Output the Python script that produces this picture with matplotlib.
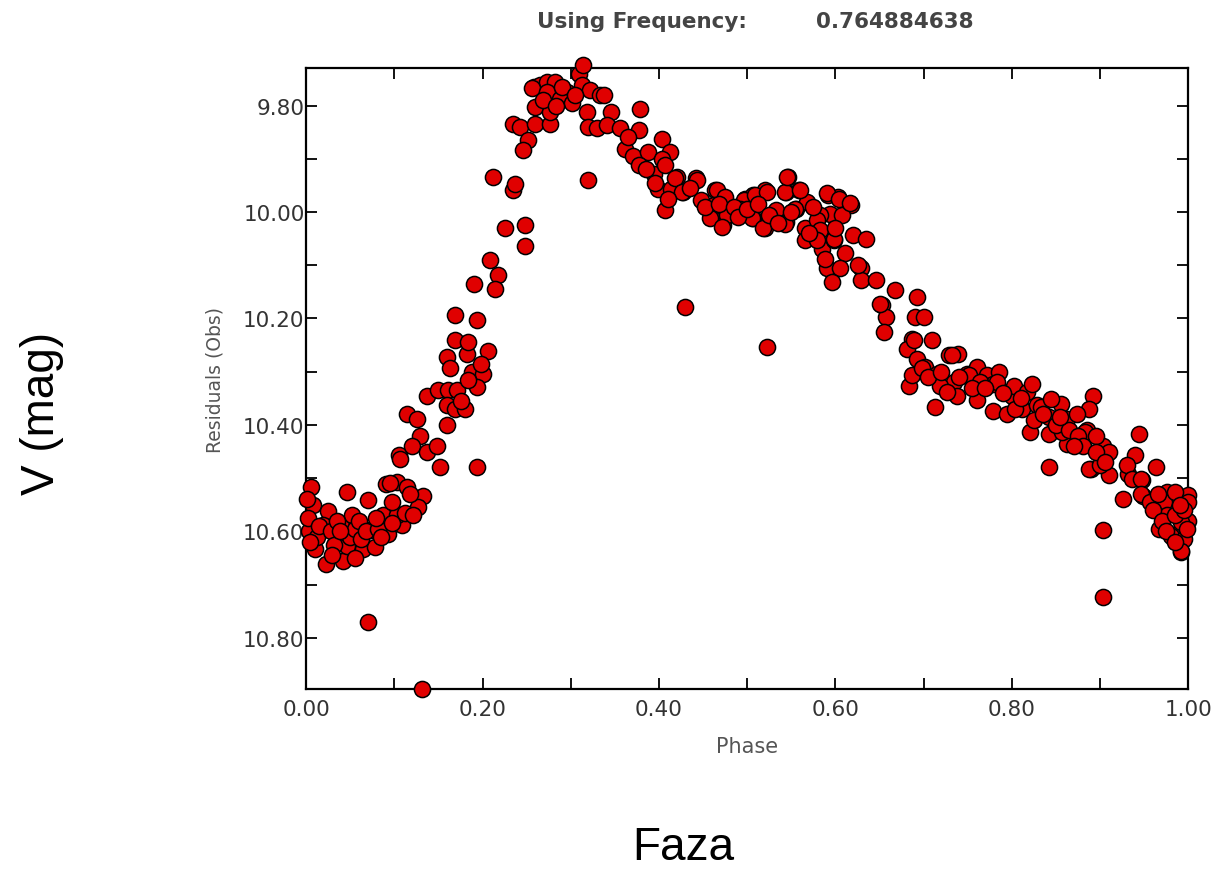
import numpy as np
import matplotlib
matplotlib.use("Agg")
import matplotlib.pyplot as plt
from matplotlib.ticker import MultipleLocator, FormatStrFormatter

# phase / V magnitude
minimum = [(0.006, 10.517), (0.046, 10.526), (0.008, 10.551), (0.025, 10.561), (0.019, 10.589),
           (0.040, 10.589), (0.052, 10.570), (0.070, 10.542), (0.073, 10.598), (0.087, 10.570),
           (0.093, 10.605), (0.109, 10.589), (0.103, 10.570), (0.010, 10.633), (0.023, 10.661),
           (0.042, 10.655), (0.046, 10.627), (0.065, 10.633), (0.078, 10.629), (0.091, 10.511),
           (0.103, 10.507), (0.114, 10.516), (0.133, 10.533), (0.127, 10.554), (0.003, 10.600),
           (0.002, 10.575), (0.012, 10.610), (0.015, 10.590), (0.028, 10.600), (0.032, 10.625),
           (0.035, 10.580), (0.050, 10.610), (0.056, 10.595), (0.060, 10.580), (0.062, 10.615),
           (0.068, 10.600), (0.082, 10.595), (0.085, 10.610), (0.097, 10.585), (0.098, 10.545),
           (0.112, 10.565), (0.118, 10.530), (0.121, 10.570), (0.095, 10.510), (0.001, 10.540),
           (0.004, 10.620), (0.030, 10.645), (0.055, 10.650), (0.038, 10.600), (0.079, 10.575)]

rise = [(0.105, 10.456), (0.107, 10.464), (0.152, 10.479), (0.114, 10.379), (0.126, 10.388),
        (0.129, 10.420), (0.120, 10.439), (0.137, 10.451), (0.148, 10.439), (0.137, 10.346),
        (0.150, 10.335), (0.161, 10.335), (0.171, 10.335), (0.160, 10.363), (0.169, 10.370),
        (0.180, 10.370), (0.160, 10.401), (0.194, 10.479), (0.160, 10.272), (0.163, 10.294),
        (0.182, 10.266), (0.206, 10.262), (0.188, 10.300), (0.201, 10.304), (0.194, 10.329),
        (0.184, 10.316), (0.169, 10.241), (0.184, 10.244), (0.169, 10.193), (0.194, 10.202),
        (0.190, 10.135), (0.209, 10.091), (0.218, 10.119), (0.214, 10.144), (0.212, 9.934),
        (0.235, 9.959), (0.237, 9.947), (0.226, 10.031), (0.248, 10.025), (0.248, 10.063),
        (0.176, 10.355), (0.198, 10.285)]

peak = [(0.235, 9.834), (0.243, 9.840), (0.260, 9.834), (0.277, 9.834), (0.252, 9.865),
        (0.246, 9.884), (0.258, 9.765), (0.265, 9.762), (0.273, 9.755), (0.282, 9.755),
        (0.256, 9.768), (0.273, 9.774), (0.296, 9.774), (0.309, 9.740), (0.314, 9.724),
        (0.313, 9.762), (0.322, 9.771), (0.333, 9.781), (0.260, 9.802), (0.277, 9.812),
        (0.288, 9.787), (0.301, 9.796), (0.318, 9.812), (0.320, 9.840), (0.330, 9.843),
        (0.320, 9.940), (0.338, 9.781), (0.346, 9.812), (0.341, 9.837), (0.356, 9.843),
        (0.377, 9.846), (0.379, 9.806), (0.362, 9.881), (0.365, 9.860), (0.370, 9.895),
        (0.290, 9.765), (0.268, 9.790), (0.305, 9.780), (0.283, 9.800)]

plateau = [(0.403, 9.862), (0.412, 9.887), (0.388, 9.887), (0.377, 9.912), (0.403, 9.900),
           (0.394, 9.928), (0.420, 9.934), (0.442, 9.937), (0.407, 9.997), (0.399, 9.956),
           (0.414, 9.956), (0.427, 9.962), (0.448, 9.978), (0.464, 9.959), (0.459, 10.007),
           (0.472, 10.025), (0.479, 10.003), (0.498, 9.975), (0.507, 9.969), (0.520, 9.959),
           (0.507, 10.012), (0.520, 10.031), (0.533, 9.997), (0.546, 9.934), (0.544, 9.962),
           (0.559, 9.959), (0.555, 9.994), (0.568, 9.981), (0.544, 10.019), (0.566, 10.031),
           (0.592, 9.969), (0.603, 9.972), (0.618, 9.987), (0.594, 10.003), (0.607, 10.006),
           (0.583, 10.006), (0.566, 10.053), (0.585, 10.069), (0.598, 10.053), (0.620, 10.044),
           (0.635, 10.050), (0.611, 10.078), (0.590, 10.106), (0.605, 10.106), (0.596, 10.131),
           (0.629, 10.106), (0.629, 10.128), (0.646, 10.128), (0.407, 9.912), (0.418, 9.937),
           (0.443, 9.940), (0.426, 9.962), (0.466, 9.959), (0.475, 9.972), (0.462, 9.987),
           (0.477, 10.006), (0.458, 10.012), (0.471, 10.028), (0.496, 9.978), (0.509, 9.969),
           (0.522, 9.962), (0.505, 10.012), (0.492, 9.994), (0.518, 10.031), (0.543, 9.962),
           (0.545, 9.934), (0.560, 9.959), (0.554, 9.994), (0.543, 10.022), (0.579, 10.016),
           (0.590, 9.965), (0.604, 9.975), (0.617, 9.984), (0.583, 10.034), (0.579, 10.053),
           (0.598, 10.050), (0.588, 10.088), (0.626, 10.100), (0.435, 9.955), (0.452, 9.990),
           (0.468, 9.985), (0.485, 9.990), (0.490, 10.010), (0.500, 9.995), (0.512, 9.985),
           (0.525, 10.005), (0.535, 10.020), (0.550, 10.000), (0.575, 9.990), (0.570, 10.040),
           (0.600, 10.030), (0.410, 9.975), (0.395, 9.945), (0.385, 9.920)]

decline = [(0.668, 10.147), (0.692, 10.160), (0.653, 10.175), (0.657, 10.197), (0.690, 10.197),
           (0.700, 10.197), (0.655, 10.225), (0.687, 10.238), (0.709, 10.241), (0.681, 10.257),
           (0.739, 10.266), (0.729, 10.269), (0.651, 10.172), (0.689, 10.241), (0.692, 10.276),
           (0.702, 10.291), (0.715, 10.304), (0.683, 10.326), (0.687, 10.307), (0.713, 10.366),
           (0.732, 10.269), (0.734, 10.319), (0.738, 10.345), (0.749, 10.304), (0.760, 10.291),
           (0.758, 10.323), (0.760, 10.354), (0.772, 10.307), (0.779, 10.323), (0.785, 10.301),
           (0.779, 10.373), (0.794, 10.379), (0.800, 10.345), (0.802, 10.326), (0.817, 10.338),
           (0.823, 10.323), (0.811, 10.370), (0.828, 10.363), (0.821, 10.413), (0.719, 10.326),
           (0.726, 10.338), (0.698, 10.294), (0.751, 10.307), (0.764, 10.319), (0.783, 10.319),
           (0.803, 10.370), (0.833, 10.366), (0.856, 10.360), (0.892, 10.345), (0.887, 10.370),
           (0.842, 10.417), (0.862, 10.388), (0.862, 10.435), (0.885, 10.410), (0.903, 10.439),
           (0.842, 10.479), (0.890, 10.482), (0.910, 10.495), (0.944, 10.417), (0.940, 10.457),
           (0.931, 10.492), (0.963, 10.479), (0.926, 10.539), (0.947, 10.504), (0.949, 10.533),
           (0.976, 10.526), (0.990, 10.539), (0.999, 10.532), (0.999, 10.580), (0.976, 10.564),
           (0.967, 10.595), (0.990, 10.601), (0.992, 10.639), (0.844, 10.351), (0.842, 10.385),
           (0.857, 10.413), (0.874, 10.379), (0.883, 10.413), (0.895, 10.420), (0.887, 10.482),
           (0.900, 10.476), (0.910, 10.451), (0.930, 10.476), (0.936, 10.501), (0.946, 10.501),
           (0.946, 10.529), (0.957, 10.545), (0.972, 10.545), (0.999, 10.545), (0.976, 10.570),
           (0.991, 10.583), (0.980, 10.608), (0.995, 10.614), (0.991, 10.636), (0.998, 10.595),
           (0.965, 10.529), (0.985, 10.526), (0.705, 10.310), (0.720, 10.300), (0.740, 10.310),
           (0.755, 10.330), (0.770, 10.330), (0.790, 10.340), (0.810, 10.350), (0.825, 10.390),
           (0.835, 10.380), (0.850, 10.400), (0.865, 10.410), (0.875, 10.420), (0.880, 10.440),
           (0.895, 10.450), (0.905, 10.470), (0.870, 10.440), (0.855, 10.385), (0.960, 10.560),
           (0.970, 10.580), (0.985, 10.570), (0.995, 10.560), (0.975, 10.600), (0.985, 10.620),
           (0.990, 10.550)]

outliers = [(0.070, 10.770), (0.131, 10.896), (0.429, 10.178), (0.522, 10.254),
            (0.903, 10.598), (0.903, 10.724)]

frequency = "0.764884638"

phase, mag = np.array(minimum + rise + peak + plateau + decline + outliers).T

fig = plt.figure(figsize=(12.29, 8.70), dpi=100)
ax = fig.add_axes([0.249, 0.207, 0.718, 0.714])

ax.scatter(phase, mag, s=135, c='#e00000', edgecolors='black', linewidths=1.1,
           zorder=3, clip_on=False)

ax.set_xlim(0, 1)
ax.set_ylim(10.896, 9.729)

ax.xaxis.set_major_locator(MultipleLocator(0.2))
ax.xaxis.set_minor_locator(MultipleLocator(0.1))
ax.yaxis.set_major_locator(MultipleLocator(0.2))
ax.yaxis.set_minor_locator(MultipleLocator(0.1))
ax.xaxis.set_major_formatter(FormatStrFormatter('%.2f'))
ax.yaxis.set_major_formatter(FormatStrFormatter('%.2f'))

ax.tick_params(which='both', direction='in', top=True, right=True,
               length=8, width=1.3, color='black')
ax.tick_params(axis='x', which='major', labelsize=15.5, labelcolor='#333333', pad=7)
ax.tick_params(axis='y', which='major', labelsize=15.5, labelcolor='#333333', pad=1)
for sp in ax.spines.values():
    sp.set_linewidth(1.6)

# inner labels from the period-analysis tool
fig.text(215 / 1229, 1 - 380 / 870, 'Residuals (Obs)', rotation=90, ha='center', va='center',
         fontsize=13.5, color='#555555')
fig.text(747 / 1229, 1 - 747 / 870, 'Phase', ha='center', va='center',
         fontsize=15, color='#555555')

# title
fig.text(642 / 1229, 1 - 22 / 870, 'Using Frequency:', ha='center', va='center',
         fontsize=15.5, fontweight='bold', color='#444444')
fig.text(895 / 1229, 1 - 22 / 870, frequency, ha='center', va='center',
         fontsize=15.5, fontweight='bold', color='#444444')

# outer labels
fig.text(42 / 1229, 1 - 413 / 870, 'V (mag)', rotation=90, ha='center', va='center',
         fontsize=33, family='Liberation Sans', color='black')
fig.text(683 / 1229, 1 - 848 / 870, 'Faza', ha='center', va='center',
         fontsize=33, family='Liberation Sans', color='black')

fig.savefig('out.png', dpi=100, facecolor='white')
